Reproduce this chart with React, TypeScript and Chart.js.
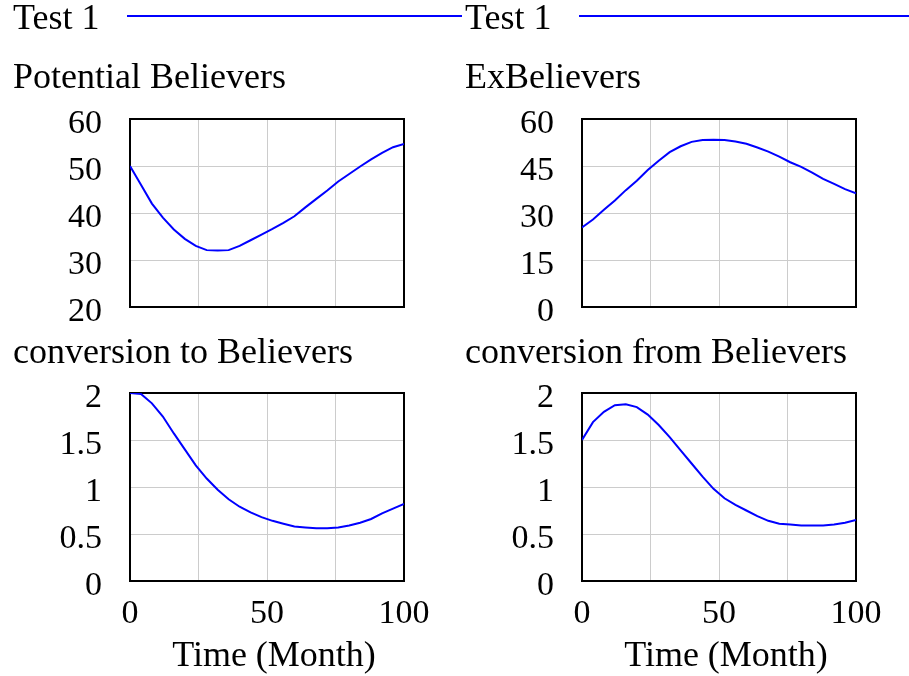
import React, { useEffect, useRef } from 'react';
import { Chart, registerables } from 'chart.js';

Chart.register(...registerables);

// ---------- data ----------
const time = [0, 4, 8, 12, 16, 20, 24, 28, 32, 36, 40, 44, 48, 52, 56, 60, 64, 68, 72, 76, 80, 84, 88, 92, 96, 100];

const potentialBelievers = [50, 46.0, 42.0, 39.0, 36.5, 34.5, 33.0, 32.1, 32.0, 32.1, 33.0, 34.2, 35.4, 36.6, 37.9, 39.3, 41.2, 43.0, 44.8, 46.7, 48.3, 49.9, 51.4, 52.8, 54.0, 54.7];

const exBelievers = [25.4, 27.9, 31.0, 34.0, 37.3, 40.3, 43.7, 46.7, 49.4, 51.3, 52.7, 53.3, 53.4, 53.3, 52.8, 52.1, 50.9, 49.6, 48.0, 46.2, 44.7, 42.9, 40.9, 39.3, 37.6, 36.3];

const conversionToBelievers = [2.0, 1.99, 1.89, 1.75, 1.57, 1.40, 1.23, 1.09, 0.97, 0.87, 0.79, 0.73, 0.68, 0.64, 0.61, 0.58, 0.57, 0.56, 0.56, 0.57, 0.59, 0.62, 0.66, 0.72, 0.77, 0.82];

const conversionFromBelievers = [1.50, 1.69, 1.80, 1.87, 1.88, 1.85, 1.77, 1.66, 1.53, 1.39, 1.25, 1.11, 0.98, 0.88, 0.81, 0.75, 0.69, 0.64, 0.61, 0.60, 0.59, 0.59, 0.59, 0.60, 0.62, 0.65];

const legendLabel = 'Test 1';
const panelTitles = ['Potential Believers', 'ExBelievers', 'conversion to Believers', 'conversion from Believers'];
const xTickValues = [0, 50, 100];
const timeAxisTitle = 'Time (Month)';
const yRanges = [
  { min: 20, max: 60, step: 10 },
  { min: 0, max: 60, step: 15 },
  { min: 0, max: 2, step: 0.5 },
  { min: 0, max: 2, step: 0.5 },
];

// ---------- style / layout ----------
const FONT_FAMILY = '"Liberation Serif", "Times New Roman", Times, serif';
const TICK_SIZE = 34;
const TEXT_SIZE = 36;
const LINE_COLOR = '#0000ff';
const GRID_COLOR = '#cccccc';

type PanelProps = {
  title: string;
  values: number[];
  range: { min: number; max: number; step: number };
  showLegend: boolean;
  showX: boolean;
  left: number;
  top: number;
  width: number;
  height: number;
  plotTop: number;
  plotBottom: number;
  plotLeft: number;
  plotRight: number;
  legendBaseline: number;
  legendLineY: number;
  legendLineStart: number;
  titleBaseline: number;
  xTitleCenter: number;
  xTitleBaseline: number;
};

function Panel(p: PanelProps) {
  const ref = useRef<HTMLCanvasElement | null>(null);

  useEffect(() => {
    if (!ref.current) return;
    const framePlugin = {
      id: 'frame',
      beforeDatasetsDraw(chart: any) {
        const { ctx, chartArea: a } = chart;
        ctx.save();
        ctx.strokeStyle = '#000000';
        ctx.lineWidth = 2;
        ctx.strokeRect(a.left, a.top, a.right - a.left, a.bottom - a.top);
        ctx.restore();
      },
    };
    const textPlugin = {
      id: 'texts',
      afterDraw(chart: any) {
        const ctx = chart.ctx;
        ctx.save();
        ctx.fillStyle = '#000000';
        ctx.font = `${TEXT_SIZE}px ${FONT_FAMILY}`;
        ctx.textBaseline = 'alphabetic';
        ctx.textAlign = 'left';
        if (p.showLegend) {
          ctx.fillText(legendLabel, 13, p.legendBaseline);
          ctx.strokeStyle = LINE_COLOR;
          ctx.lineWidth = 2;
          ctx.beginPath();
          ctx.moveTo(p.legendLineStart, p.legendLineY);
          ctx.lineTo(p.width, p.legendLineY);
          ctx.stroke();
        }
        ctx.fillText(p.title, 13, p.titleBaseline);
        if (p.showX) {
          ctx.textAlign = 'center';
          ctx.fillText(timeAxisTitle, p.xTitleCenter, p.xTitleBaseline);
        }
        ctx.restore();
      },
    };

    const xHeight = p.height - p.plotBottom;

    const chart = new Chart(ref.current, {
      type: 'line',
      data: {
        datasets: [
          {
            label: legendLabel,
            data: time.map((t, i) => ({ x: t, y: p.values[i] })),
            borderColor: LINE_COLOR,
            borderWidth: 2,
            pointRadius: 0,
            tension: 0,
            fill: false,
          },
        ],
      },
      options: {
        animation: false,
        responsive: false,
        maintainAspectRatio: false,
        layout: {
          padding: {
            left: 0,
            top: p.plotTop,
            right: p.width - p.plotRight,
            bottom: 0,
          },
        },
        plugins: {
          legend: { display: false },
          title: { display: false },
          tooltip: { enabled: false },
        },
        scales: {
          x: {
            type: 'linear',
            min: 0,
            max: 100,
            afterFit: (s: any) => {
              s.height = xHeight;
              s.paddingLeft = 0;
              s.paddingRight = 0;
              s.paddingTop = 0;
              s.paddingBottom = 0;
            },
            ticks: {
              display: p.showX,
              stepSize: 25,
              autoSkip: false,
              maxRotation: 0,
              padding: 13,
              color: '#000000',
              font: { family: FONT_FAMILY, size: TICK_SIZE },
              callback: (v: any) => (xTickValues.includes(Number(v)) ? String(v) : ''),
            },
            grid: { color: GRID_COLOR, lineWidth: 1, drawTicks: false },
            border: { display: false },
          },
          y: {
            type: 'linear',
            min: p.range.min,
            max: p.range.max,
            afterFit: (s: any) => {
              s.width = p.plotLeft;
              s.paddingTop = 0;
              s.paddingBottom = 0;
              s.paddingLeft = 0;
              s.paddingRight = 0;
            },
            ticks: {
              stepSize: p.range.step,
              padding: 28,
              labelOffset: 5,
              color: '#000000',
              font: { family: FONT_FAMILY, size: TICK_SIZE },
              callback: (v: any) => String(Number(v)),
            },
            grid: { color: GRID_COLOR, lineWidth: 1, drawTicks: false },
            border: { display: false },
          },
        },
      },
      plugins: [framePlugin, textPlugin],
    });
    return () => chart.destroy();
  }, []);

  return (
    <canvas
      ref={ref}
      width={p.width}
      height={p.height}
      style={{ position: 'absolute', left: p.left, top: p.top, width: p.width, height: p.height }}
    />
  );
}

export default function App() {
  const seriesList = [potentialBelievers, exBelievers, conversionToBelievers, conversionFromBelievers];
  const panels: PanelProps[] = [0, 1, 2, 3].map((i) => {
    const col = i % 2;
    const row = Math.floor(i / 2);
    const left = col === 0 ? 0 : 452;
    const width = col === 0 ? 462 : 457;
    const top = row === 0 ? 0 : 330;
    const height = row === 0 ? 330 : 346;
    return {
      title: panelTitles[i],
      values: seriesList[i],
      range: yRanges[i],
      showLegend: row === 0,
      showX: row === 1,
      left,
      top,
      width,
      height,
      plotTop: row === 0 ? 119 : 63,
      plotBottom: row === 0 ? 307 : 251,
      plotLeft: 130,
      plotRight: 404,
      legendBaseline: 29,
      legendLineY: 16,
      legendLineStart: 127,
      titleBaseline: row === 0 ? 88 : 33,
      xTitleCenter: 274,
      xTitleBaseline: 336,
    };
  });
  return (
    <div style={{ position: 'absolute', left: 0, top: 0, width: 909, height: 676, background: '#ffffff' }}>
      {panels.map((p, i) => (
        <Panel key={i} {...p} />
      ))}
    </div>
  );
}
